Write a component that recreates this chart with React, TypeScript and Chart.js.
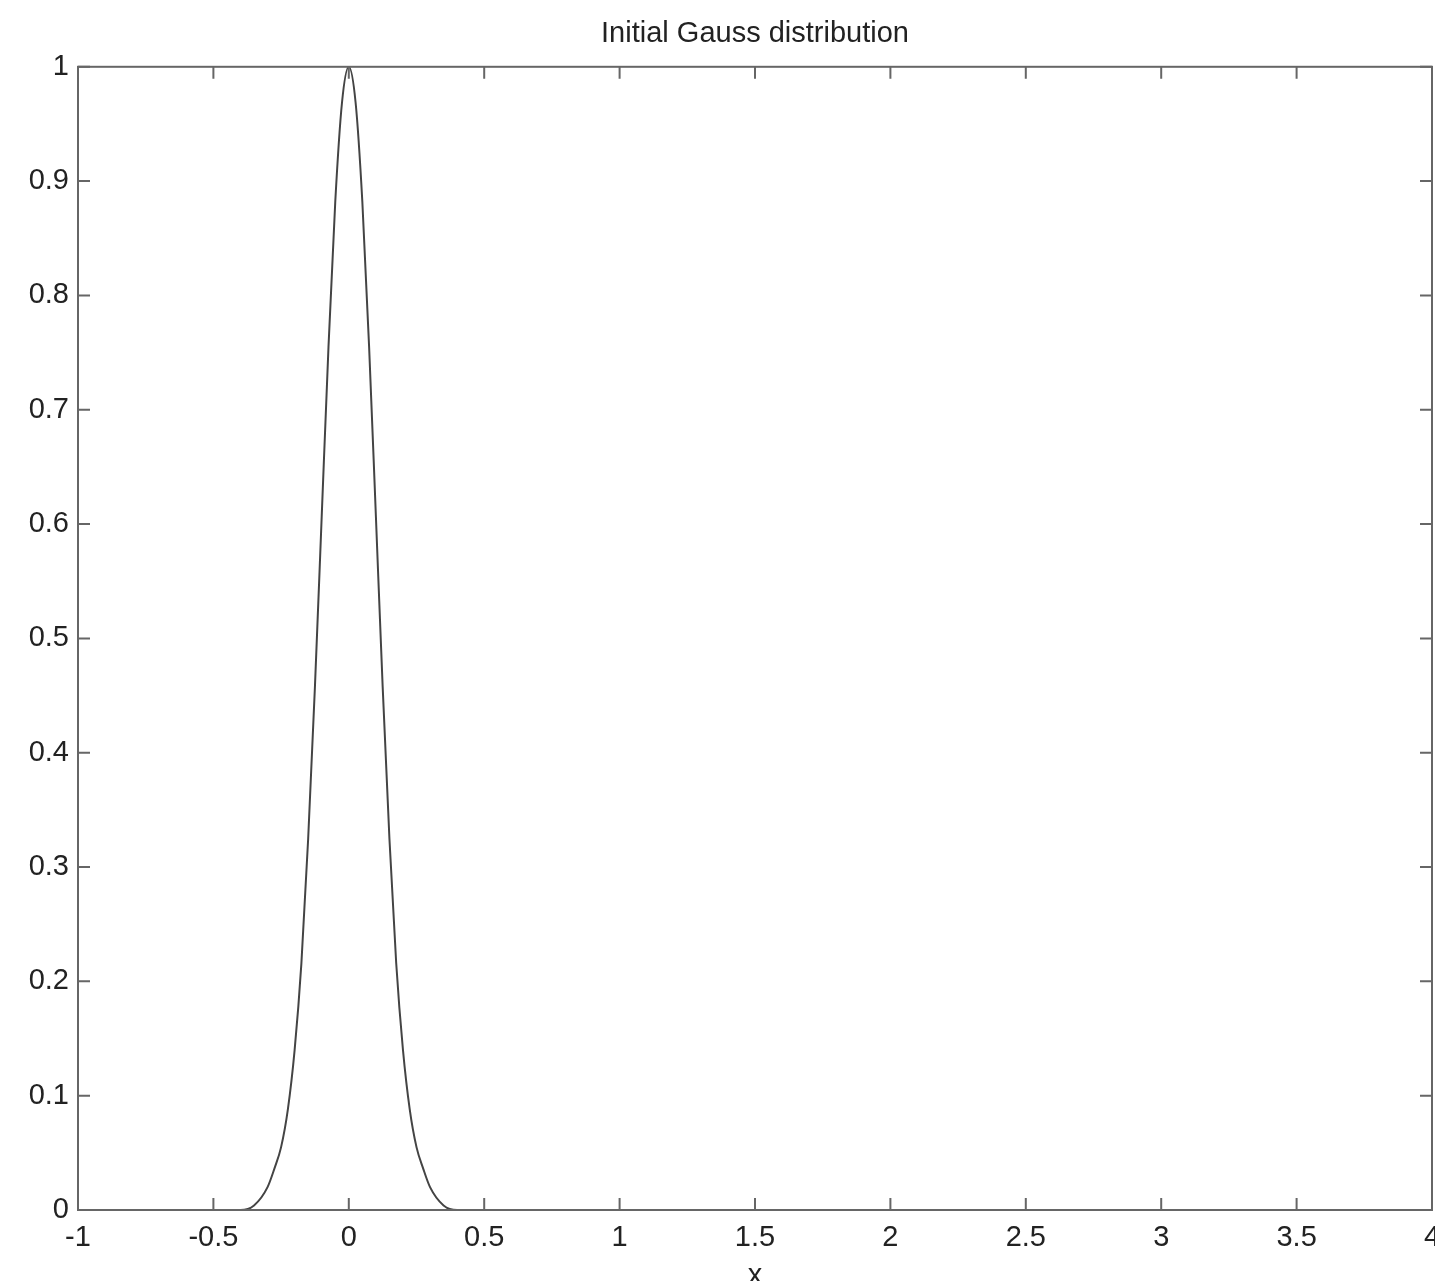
import React, { useEffect, useRef } from "react";
import { Chart, registerables } from "chart.js";

Chart.register(...registerables);

const TITLE = "Initial Gauss distribution";
const X_LABEL = "x";

const xValues = [
  -1, -0.4, -0.35, -0.3, -0.275, -0.25, -0.225, -0.2, -0.175, -0.15, -0.125, -0.1, -0.075, -0.05, -0.025,
  0, 0.025, 0.05, 0.075, 0.1, 0.125, 0.15, 0.175, 0.2, 0.225, 0.25, 0.275, 0.3, 0.35, 0.4, 4,
];
const yValues = [
  0, 0, 0.004, 0.02, 0.036, 0.055, 0.088, 0.14, 0.216, 0.325, 0.458, 0.607, 0.755, 0.882, 0.969,
  1, 0.969, 0.882, 0.755, 0.607, 0.458, 0.325, 0.216, 0.14, 0.088, 0.055, 0.036, 0.02, 0.004, 0, 0,
];

const xTicks = [-1, -0.5, 0, 0.5, 1, 1.5, 2, 2.5, 3, 3.5, 4];
const xTickLabels = ["-1", "-0.5", "0", "0.5", "1", "1.5", "2", "2.5", "3", "3.5", "4"];
const yTicks = [0, 0.1, 0.2, 0.3, 0.4, 0.5, 0.6, 0.7, 0.8, 0.9, 1];
const yTickLabels = ["0", "0.1", "0.2", "0.3", "0.4", "0.5", "0.6", "0.7", "0.8", "0.9", "1"];

const FONT = "'Liberation Sans', Arial, Helvetica, sans-serif";
const TEXT = "#222";
const AXIS = "#666";

const framePlugin = {
  id: "matlabFrame",
  afterDatasetsDraw(chart: any) {
    const { ctx, chartArea: a, scales } = chart;
    ctx.save();
    ctx.strokeStyle = AXIS;
    ctx.lineWidth = 2;
    ctx.strokeRect(a.left, a.top, a.right - a.left, a.bottom - a.top);
    const L = 12;
    ctx.beginPath();
    for (const v of xTicks) {
      const px = scales.x.getPixelForValue(v);
      ctx.moveTo(px, a.bottom);
      ctx.lineTo(px, a.bottom - L);
      ctx.moveTo(px, a.top);
      ctx.lineTo(px, a.top + L);
    }
    for (const v of yTicks) {
      const py = scales.y.getPixelForValue(v);
      ctx.moveTo(a.left, py);
      ctx.lineTo(a.left + L, py);
      ctx.moveTo(a.right, py);
      ctx.lineTo(a.right - L, py);
    }
    ctx.stroke();
    ctx.restore();
  },
};

export default function App() {
  const ref = useRef<HTMLCanvasElement | null>(null);

  useEffect(() => {
    if (!ref.current) return;
    const chart = new Chart(ref.current, {
      type: "line",
      data: {
        datasets: [
          {
            data: xValues.map((x, i) => ({ x, y: yValues[i] })),
            borderColor: "#444",
            borderWidth: 2,
            pointRadius: 0,
            cubicInterpolationMode: "monotone",
            fill: false,
          },
        ],
      },
      options: {
        animation: false,
        responsive: false,
        devicePixelRatio: 1,
        layout: { padding: { left: 0, top: 0, right: 68, bottom: 0 } },
        plugins: {
          legend: { display: false },
          tooltip: { enabled: false },
          title: {
            display: true,
            text: TITLE,
            fullSize: false,
            color: TEXT,
            font: { family: FONT, size: 29, weight: "normal" },
            padding: { top: 17, bottom: 15 },
          },
        },
        scales: {
          x: {
            type: "linear",
            min: -1,
            max: 4,
            grid: { display: false, drawTicks: false },
            border: { display: false },
            afterBuildTicks: (scale: any) => {
              scale.ticks = xTicks.map((v) => ({ value: v }));
            },
            afterFit: (scale: any) => {
              scale.height = 110;
            },
            ticks: {
              color: TEXT,
              font: { family: FONT, size: 29 },
              padding: 11,
              maxRotation: 0,
              autoSkip: false,
              callback: (_v: any, i: number) => xTickLabels[i],
            },
            title: {
              display: true,
              text: X_LABEL,
              color: TEXT,
              font: { family: FONT, size: 29 },
              padding: { top: 0, bottom: 27 },
            },
          },
          y: {
            type: "linear",
            min: 0,
            max: 1,
            grid: { display: false, drawTicks: false },
            border: { display: false },
            afterBuildTicks: (scale: any) => {
              scale.ticks = yTicks.map((v) => ({ value: v }));
            },
            afterFit: (scale: any) => {
              scale.width = 78;
            },
            ticks: {
              color: TEXT,
              font: { family: FONT, size: 29 },
              padding: 9,
              autoSkip: false,
              callback: (_v: any, i: number) => yTickLabels[i],
            },
          },
        },
      },
      plugins: [framePlugin],
    });
    return () => chart.destroy();
  }, []);

  return (
    <div
      style={{
        position: "fixed",
        left: 0,
        top: 0,
        width: 1435,
        height: 1281,
        overflow: "hidden",
        background: "#fff",
      }}
    >
      <canvas ref={ref} width={1500} height={1320} style={{ display: "block" }} />
    </div>
  );
}
